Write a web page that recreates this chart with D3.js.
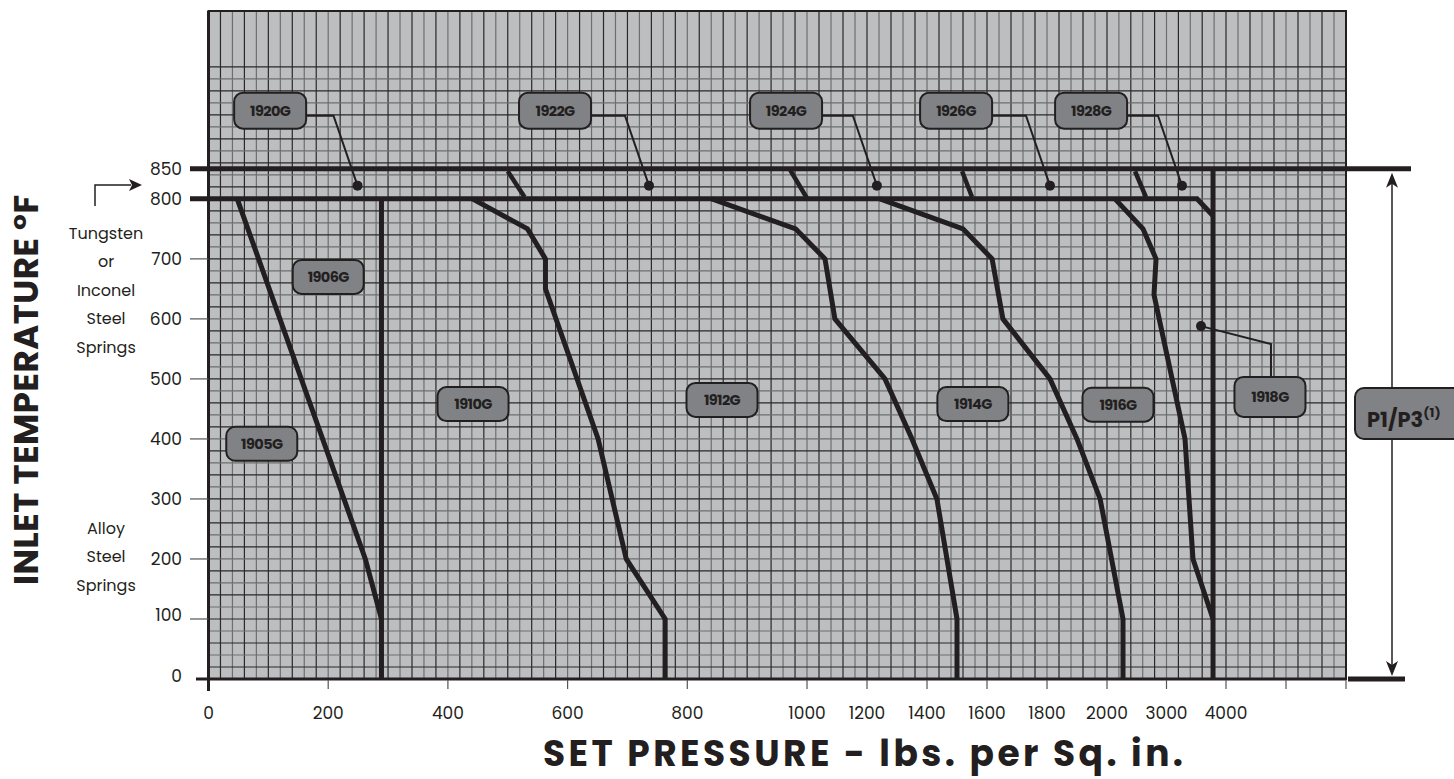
<!DOCTYPE html>
<html>
<head>
<meta charset="utf-8">
<script src="https://cdn.jsdelivr.net/npm/d3@7"></script>
<style>
  body { margin: 0; background: #fff; }
  text { font-family: Poppins, "Open Sans", Lato, sans-serif; fill: #231f20; }
</style>
</head>
<body>
<svg id="chart"></svg>
<script>
// ---- data (psi, deg F) ----
const xTickValues = [0, 200, 400, 600, 800, 1000, 1200, 1400, 1600, 1800, 2000, 3000, 4000, 5000, 6000];
const xTickLabels = ['0', '200', '400', '600', '800', '1000', '1200', '1400', '1600', '1800', '2000', '3000', '4000', '', ''];
const yTickValues = [0, 100, 200, 300, 400, 500, 600, 700, 800, 850];

const curve1905 = [[48, 800], [262, 200], [289, 100]];
const curve1906 = [[289, 800], [289, 0]];
const curve1910 = [[441, 800], [533, 750], [563, 700], [563, 650], [651, 400], [698, 200], [763, 100], [763, 0]];
const curve1912 = [[841, 800], [981, 750], [1060, 700], [1093, 600], [1260, 500], [1350, 400], [1433, 300], [1500, 100], [1500, 0]];
const curve1914 = [[1243, 800], [1520, 750], [1617, 700], [1653, 600], [1810, 500], [1900, 400], [1977, 300], [2269, 100], [2269, 0]];
const curve1916 = [[2134, 800], [2605, 750], [2824, 700], [2790, 640], [3311, 400], [3445, 200], [3782, 100]];
const curve1918 = [[3782, 847], [3782, 0]];
const limit800 = [[3513, 800], [3782, 772]];
const slants = [
  [[500, 846], [528, 803]],
  [[972, 848], [1000, 801]],
  [[1517, 846], [1550, 803]],
  [[2471, 846], [2655, 803]]
];

// annotation boxes: name, box centre (psi, degF), optional dot (psi, degF)
const topLabels = [
  {name: '1920G', psi: 103, temp: 947, dot: [249, 822]},
  {name: '1922G', psi: 579, temp: 947, dot: [736, 822]},
  {name: '1924G', psi: 965, temp: 947, dot: [1233, 822]},
  {name: '1926G', psi: 1497, temp: 947, dot: [1810, 822]},
  {name: '1928G', psi: 1947, temp: 947, dot: [3260, 822]}
];
const plainLabels = [
  {name: '1905G', psi: 89, temp: 392},
  {name: '1906G', psi: 200, temp: 670},
  {name: '1910G', psi: 442, temp: 458},
  {name: '1912G', psi: 858, temp: 465},
  {name: '1914G', psi: 1553, temp: 458},
  {name: '1916G', psi: 2185, temp: 457}
];
const label1918 = {name: '1918G', psi: 4733, temp: 470, dot: [3580, 588]};

const upperSprings = ['Tungsten', 'or', 'Inconel', 'Steel', 'Springs'];
const lowerSprings = ['Alloy', 'Steel', 'Springs'];

// ---- layout ----
const W = 1454, H = 779;
const pLeft = 208.5, pRight = 1346, pTop = 11, pBottom = 679;
const dark = '#231f20';

const svg = d3.select('#chart').attr('width', W).attr('height', H);

const x = d3.scaleLinear()
  .domain([0, 1000, 2000, 3000, 4000, 6000])
  .range([pLeft, 807, 1107, 1166.5, 1226, pRight]);
const y = d3.scaleLinear().domain([0, 1113]).range([pBottom, pTop]);

// plot background
svg.append('rect')
  .attr('x', pLeft).attr('y', pTop)
  .attr('width', pRight - pLeft).attr('height', pBottom - pTop)
  .attr('fill', '#bcbec0');

// grid
const vGrid = d3.range(20, 1000, 20)
  .concat(d3.range(1000, 2000, 40))
  .concat(d3.range(2000, 6000, 200));
const hGrid = d3.range(20, 1021, 20);

const grid = svg.append('g');
grid.selectAll('.vg').data(vGrid).enter().append('line')
  .attr('x1', d => x(d)).attr('x2', d => x(d))
  .attr('y1', pTop).attr('y2', pBottom)
  .attr('stroke', (d, i) => i % 2 ? '#6d6e71' : '#2b2829')
  .attr('stroke-width', 1.2);
grid.selectAll('.hg').data(hGrid).enter().append('line')
  .attr('y1', d => y(d)).attr('y2', d => y(d))
  .attr('x1', pLeft).attr('x2', pRight)
  .attr('stroke', (d, i) => i % 2 ? '#6d6e71' : '#2b2829')
  .attr('stroke-width', 1.2);

// frame
svg.append('rect')
  .attr('x', pLeft).attr('y', pTop)
  .attr('width', pRight - pLeft).attr('height', pBottom - pTop)
  .attr('fill', 'none').attr('stroke', dark).attr('stroke-width', 2);
svg.append('line').attr('x1', pLeft).attr('x2', pLeft).attr('y1', pTop).attr('y2', 691)
  .attr('stroke', dark).attr('stroke-width', 3);
svg.append('line').attr('x1', 196).attr('x2', pRight).attr('y1', pBottom).attr('y2', pBottom)
  .attr('stroke', dark).attr('stroke-width', 3);

// x ticks
const xt = svg.append('g');
xt.selectAll('line').data(xTickValues.slice(1)).enter().append('line')
  .attr('x1', d => x(d)).attr('x2', d => x(d))
  .attr('y1', pBottom + 1).attr('y2', 689)
  .attr('stroke', '#555').attr('stroke-width', 1.2);
xt.selectAll('text').data(xTickValues).enter().append('text')
  .attr('x', d => x(d)).attr('y', 719)
  .attr('text-anchor', 'middle').attr('font-size', 17)
  .text((d, i) => xTickLabels[i]);

// y ticks
const yt = svg.append('g');
yt.selectAll('line').data(yTickValues.filter(d => d > 0 && d < 800)).enter().append('line')
  .attr('x1', 190).attr('x2', pLeft)
  .attr('y1', d => y(d)).attr('y2', d => y(d))
  .attr('stroke', '#555').attr('stroke-width', 1.2);
yt.selectAll('text').data(yTickValues).enter().append('text')
  .attr('x', 182).attr('y', d => y(d) - (d === 0 ? 3 : d === 100 ? 4 : 0))
  .attr('dy', '0.35em')
  .attr('text-anchor', 'end').attr('font-size', 17)
  .text(d => d);

// 850 and 800 limits
svg.append('line').attr('x1', 190).attr('x2', 1411)
  .attr('y1', y(850)).attr('y2', y(850))
  .attr('stroke', dark).attr('stroke-width', 5);

const line = d3.line().x(d => x(d[0])).y(d => y(d[1]));

svg.append('path')
  .attr('d', 'M190,' + y(800) + 'L' + line(limit800).slice(1))
  .attr('fill', 'none').attr('stroke', dark).attr('stroke-width', 5)
  .attr('stroke-linejoin', 'miter');

// curves
const curves = [curve1905, curve1906, curve1910, curve1912, curve1914, curve1916, curve1918];
svg.append('g').selectAll('path').data(curves).enter().append('path')
  .attr('d', line)
  .attr('fill', 'none').attr('stroke', dark)
  .attr('stroke-width', 5).attr('stroke-linejoin', 'miter');

svg.append('g').selectAll('path').data(slants).enter().append('path')
  .attr('d', line)
  .attr('fill', 'none').attr('stroke', dark).attr('stroke-width', 4.5);

// boxes
function box(g, cx, cy, w, h, label) {
  g.append('rect')
    .attr('x', cx - w / 2).attr('y', cy - h / 2)
    .attr('width', w).attr('height', h)
    .attr('rx', 9)
    .attr('fill', '#808285').attr('stroke', dark).attr('stroke-width', 2);
  g.append('text')
    .attr('x', cx).attr('y', cy).attr('dy', '0.36em')
    .attr('text-anchor', 'middle')
    .attr('font-size', 14.5).attr('font-weight', 700)
    .attr('letter-spacing', -0.6)
    .text(label);
}

const ann = svg.append('g');
topLabels.forEach(d => {
  const cx = x(d.psi), cy = y(d.temp);
  const dx = x(d.dot[0]), dy = y(d.dot[1]);
  ann.append('path')
    .attr('d', `M${cx + 36},${cy + 5}H${dx - 24}L${dx},${dy}`)
    .attr('fill', 'none').attr('stroke', dark).attr('stroke-width', 2);
  ann.append('circle').attr('cx', dx).attr('cy', dy).attr('r', 5).attr('fill', dark);
  box(ann, cx, cy, 72, 36, d.name);
});
plainLabels.forEach(d => box(ann, x(d.psi), y(d.temp), 71, 34, d.name));

{
  const d = label1918;
  const cx = x(d.psi), cy = y(d.temp);
  const dx = x(d.dot[0]), dy = y(d.dot[1]);
  ann.append('path')
    .attr('d', `M${dx},${dy}L${cx + 1},${dy + 18}V${cy - 19}`)
    .attr('fill', 'none').attr('stroke', dark).attr('stroke-width', 2);
  ann.append('circle').attr('cx', dx).attr('cy', dy).attr('r', 5).attr('fill', dark);
  box(ann, cx, cy, 71, 40, d.name);
}

// P1/P3 arrow and box
const ax = 1392;
svg.append('line').attr('x1', ax).attr('x2', ax)
  .attr('y1', y(850) + 8).attr('y2', 668)
  .attr('stroke', dark).attr('stroke-width', 1.5);
svg.append('path')
  .attr('d', `M${ax},${y(850) + 4}L${ax - 6},${y(850) + 19}L${ax},${y(850) + 15}L${ax + 6},${y(850) + 19}Z`)
  .attr('fill', dark);
svg.append('path')
  .attr('d', `M${ax},676L${ax - 6},661L${ax},665L${ax + 6},661Z`)
  .attr('fill', dark);
svg.append('line').attr('x1', 1348).attr('x2', 1405)
  .attr('y1', pBottom).attr('y2', pBottom)
  .attr('stroke', dark).attr('stroke-width', 5);
svg.append('rect')
  .attr('x', 1355).attr('y', 388).attr('width', 110).attr('height', 51).attr('rx', 9)
  .attr('fill', '#808285').attr('stroke', dark).attr('stroke-width', 2);
const p = svg.append('text').attr('x', 1367).attr('y', 427)
  .attr('font-size', 21).attr('font-weight', 700);
p.append('tspan').text('P1/P3');
p.append('tspan').attr('font-size', 13).attr('dy', -10).text('(1)');

// spring notes
svg.append('g').selectAll('text').data(upperSprings).enter().append('text')
  .attr('x', 106).attr('y', (d, i) => 233 + i * 28.5).attr('dy', '0.35em')
  .attr('text-anchor', 'middle').attr('font-size', 16).text(d => d);
svg.append('g').selectAll('text').data(lowerSprings).enter().append('text')
  .attr('x', 106).attr('y', (d, i) => 528 + i * 28.5).attr('dy', '0.35em')
  .attr('text-anchor', 'middle').attr('font-size', 16).text(d => d);

svg.append('path').attr('d', 'M95,206V185H131')
  .attr('fill', 'none').attr('stroke', dark).attr('stroke-width', 1.5);
svg.append('path').attr('d', 'M142,185L129,179L132,185L129,191Z').attr('fill', dark);

// axis titles
svg.append('text')
  .attr('transform', 'translate(38,390) rotate(-90)')
  .attr('text-anchor', 'middle')
  .attr('font-size', 34).attr('font-weight', 700)
  .attr('textLength', 390).attr('lengthAdjust', 'spacing')
  .text('INLET TEMPERATURE °F');
svg.append('text')
  .attr('x', 863).attr('y', 766)
  .attr('text-anchor', 'middle')
  .attr('font-size', 36).attr('font-weight', 700)
  .attr('textLength', 640).attr('lengthAdjust', 'spacing')
  .text('SET PRESSURE - lbs. per Sq. in.');
</script>
</body>
</html>
